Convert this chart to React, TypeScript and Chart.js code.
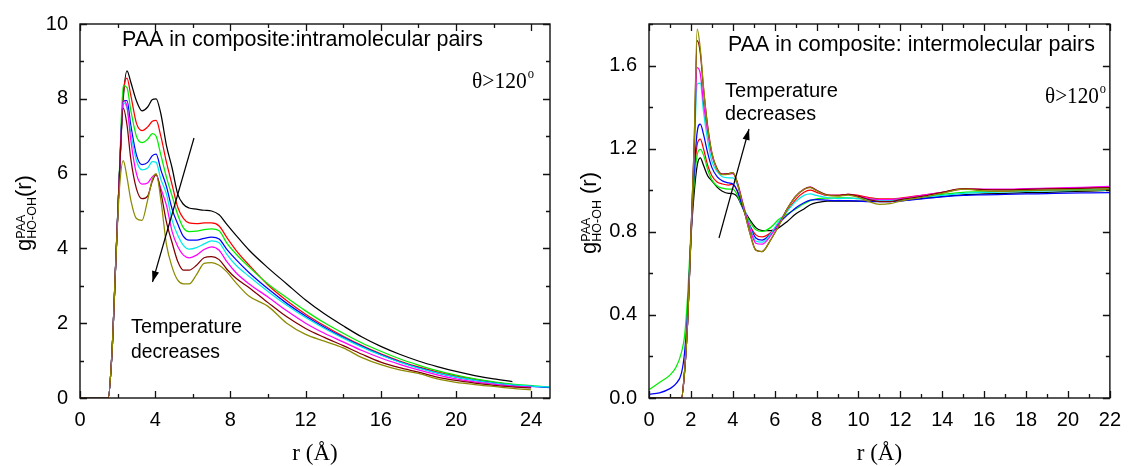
import React, { useEffect, useRef } from 'react';
import { Chart, registerables } from 'chart.js';

Chart.register(...registerables);

const SANS = 'Arial, "Liberation Sans", Helvetica, sans-serif';
const SERIF = '"Times New Roman", "Liberation Serif", Times, serif';

const SERIES_COLORS = ['#000000', '#ff0000', '#00ee00', '#0000ff', '#00eaea', '#ff00ff', '#800000', '#8c8a00'];
const SERIES_NAMES = ['T1', 'T2', 'T3', 'T4', 'T5', 'T6', 'T7', 'T8'];

// ---------------- Left panel: intramolecular pairs ----------------
const intraR = [0, 1.5, 1.7, 1.9, 2.1, 2.3, 2.5, 2.7, 3.0, 3.3, 3.6, 3.85, 4.05, 4.3, 4.6, 4.9, 5.2, 5.5, 5.8, 6.2, 6.6, 7.0, 7.4, 7.8, 8.3, 9, 10, 11, 12, 13, 14, 15, 16, 17, 18, 19, 20, 21, 22, 23, 24, 25];
const intraBlack = [0, 0, 1.2, 3.6, 6.0, 8.0, 8.75, 8.45, 7.95, 7.68, 7.78, 7.98, 8.0, 7.6, 6.75, 6.15, 5.45, 5.18, 5.08, 5.05, 5.02, 5.0, 4.9, 4.65, 4.35, 3.95, 3.48, 3.05, 2.62, 2.25, 1.93, 1.63, 1.38, 1.17, 0.99, 0.84, 0.71, 0.6, 0.51, 0.44, null, null];
const intraRed = [0, 0, 1.2, 3.6, 6.0, 8.1, 8.55, 8.1, 7.35, 7.15, 7.25, 7.4, 7.42, 7.0, 6.3, 5.7, 5.1, 4.8, 4.68, 4.66, 4.68, 4.68, 4.6, 4.3, 3.95, 3.55, 3.02, 2.6, 2.24, 1.93, 1.65, 1.4, 1.18, 0.99, 0.83, 0.7, 0.59, 0.5, 0.42, 0.36, 0.31, null];
const intraGreen = [0, 0, 1.2, 3.6, 6.1, 8.35, 8.3, 7.7, 7.0, 6.83, 6.92, 7.07, 7.0, 6.5, 5.9, 5.4, 4.9, 4.55, 4.45, 4.46, 4.5, 4.52, 4.47, 4.15, 3.85, 3.5, 3.05, 2.68, 2.33, 2.01, 1.73, 1.47, 1.25, 1.05, 0.88, 0.73, 0.61, 0.51, 0.43, 0.37, 0.33, 0.29];
const intraBlue = [0, 0, 1.2, 3.6, 6.0, 7.95, 7.95, 7.3, 6.5, 6.24, 6.3, 6.48, 6.52, 6.1, 5.65, 5.05, 4.65, 4.32, 4.22, 4.22, 4.27, 4.3, 4.25, 3.98, 3.7, 3.35, 2.92, 2.53, 2.19, 1.89, 1.62, 1.38, 1.16, 0.97, 0.81, 0.67, 0.56, 0.47, 0.4, 0.34, 0.31, 0.28];
const intraCyan = [0, 0, 1.2, 3.6, 6.0, 7.9, 7.75, 7.1, 6.35, 6.1, 6.15, 6.32, 6.3, 5.85, 5.45, 4.75, 4.35, 4.08, 3.98, 4.02, 4.12, 4.2, 4.15, 3.85, 3.55, 3.25, 2.85, 2.48, 2.15, 1.86, 1.6, 1.36, 1.15, 0.96, 0.8, 0.67, 0.56, 0.47, 0.4, 0.35, 0.32, 0.29];
const intraMagenta = [0, 0, 1.2, 3.6, 6.0, 7.95, 7.8, 6.9, 6.0, 5.72, 5.75, 5.92, 5.97, 5.6, 5.15, 4.45, 4.05, 3.82, 3.75, 3.82, 3.97, 4.04, 3.95, 3.65, 3.35, 3.05, 2.7, 2.33, 2.0, 1.73, 1.5, 1.27, 1.07, 0.9, 0.75, 0.62, 0.51, 0.43, 0.37, 0.32, 0.29, null];
const intraWine = [0, 0, 1.2, 3.6, 6.0, 7.75, 7.3, 6.4, 5.6, 5.33, 5.4, 5.8, 5.97, 5.5, 4.7, 4.15, 3.65, 3.42, 3.42, 3.55, 3.75, 3.78, 3.7, 3.45, 3.2, 2.95, 2.55, 2.17, 1.86, 1.62, 1.4, 1.17, 0.96, 0.81, 0.69, 0.56, 0.47, 0.4, 0.34, 0.3, 0.27, null];
const intraOlive = [0, 0, 1.2, 3.6, 5.6, 6.35, 5.9, 5.3, 4.8, 4.75, 5.3, 5.85, 6.0, 5.3, 4.1, 3.5, 3.15, 3.05, 3.05, 3.3, 3.6, 3.62, 3.55, 3.38, 3.08, 2.72, 2.45, 2.0, 1.7, 1.52, 1.34, 1.08, 0.89, 0.75, 0.66, 0.51, 0.42, 0.36, 0.31, 0.26, 0.22, null];
const intraSeries = [intraBlack, intraRed, intraGreen, intraBlue, intraCyan, intraMagenta, intraWine, intraOlive];

// ---------------- Right panel: intermolecular pairs ----------------
const interR = [0, 0.5, 1.0, 1.3, 1.55, 1.7, 1.85, 2.0, 2.15, 2.3, 2.45, 2.6, 2.8, 3.0, 3.25, 3.5, 3.8, 4.0, 4.2, 4.5, 4.8, 5.1, 5.4, 5.8, 6.2, 6.6, 7.0, 7.4, 7.7, 8.0, 8.5, 9.0, 9.5, 10, 10.5, 11, 11.5, 12, 13, 14, 15, 16, 17, 18, 19, 20, 21, 22];
const interBlack = [0, 0, 0, 0, 0, 0.13, 0.38, 0.76, 0.98, 1.12, 1.156, 1.12, 1.07, 1.045, 1.015, 0.995, 0.985, 0.984, 0.97, 0.91, 0.86, 0.82, 0.805, 0.805, 0.82, 0.85, 0.885, 0.91, 0.93, 0.94, 0.948, 0.948, 0.948, 0.948, 0.948, 0.948, 0.95, 0.952, 0.96, 0.97, 0.978, 0.982, 0.985, 0.988, 0.99, 0.993, 0.996, 1.0];
const interRed = [0, 0, 0, 0, 0, 0.13, 0.38, 0.77, 1.05, 1.22, 1.246, 1.2, 1.12, 1.07, 1.04, 1.03, 1.025, 1.028, 1.0, 0.915, 0.835, 0.785, 0.775, 0.795, 0.84, 0.9, 0.955, 0.99, 1.0, 0.99, 0.975, 0.975, 0.98, 0.975, 0.965, 0.958, 0.958, 0.962, 0.975, 0.99, 1.005, 1.003, 1.003, 1.006, 1.008, 1.01, 1.013, 1.015];
const interGreen = [0.04, 0.075, 0.11, 0.15, 0.22, 0.3, 0.5, 0.8, 1.03, 1.17, 1.196, 1.17, 1.1, 1.05, 1.02, 1.01, 1.005, 1.005, 0.98, 0.91, 0.85, 0.81, 0.802, 0.82, 0.86, 0.885, 0.91, 0.935, 0.95, 0.958, 0.962, 0.963, 0.963, 0.96, 0.958, 0.955, 0.955, 0.957, 0.968, 0.98, 0.99, 0.992, 0.995, 0.998, 1.0, 1.002, 1.004, 1.006];
const interBlue = [0.018, 0.025, 0.045, 0.07, 0.12, 0.22, 0.42, 0.78, 1.08, 1.28, 1.318, 1.27, 1.18, 1.11, 1.065, 1.045, 1.035, 1.03, 1.0, 0.91, 0.83, 0.77, 0.76, 0.79, 0.84, 0.88, 0.915, 0.94, 0.952, 0.955, 0.952, 0.95, 0.95, 0.948, 0.945, 0.945, 0.945, 0.948, 0.958, 0.968, 0.975, 0.978, 0.98, 0.982, 0.984, 0.986, 0.987, 0.988];
const interCyan = [0, 0, 0, 0, 0, 0.13, 0.38, 0.78, 1.15, 1.51, 1.515, 1.38, 1.24, 1.14, 1.09, 1.065, 1.06, 1.06, 1.03, 0.93, 0.83, 0.755, 0.75, 0.79, 0.85, 0.9, 0.945, 0.975, 0.982, 0.975, 0.965, 0.96, 0.962, 0.96, 0.955, 0.95, 0.95, 0.955, 0.965, 0.975, 0.985, 0.99, 0.992, 0.995, 0.997, 0.998, 1.0, 1.0];
const interMagenta = [0, 0, 0, 0, 0, 0.13, 0.38, 0.78, 1.18, 1.59, 1.56, 1.42, 1.28, 1.17, 1.1, 1.078, 1.078, 1.08, 1.045, 0.93, 0.82, 0.745, 0.74, 0.78, 0.84, 0.91, 0.97, 1.005, 1.015, 1.0, 0.975, 0.975, 0.98, 0.97, 0.96, 0.955, 0.955, 0.96, 0.975, 0.99, 1.005, 1.005, 1.005, 1.008, 1.01, 1.012, 1.015, 1.018];
const interWine = [0, 0, 0, 0, 0, 0.13, 0.38, 0.78, 1.2, 1.72, 1.66, 1.49, 1.31, 1.18, 1.105, 1.078, 1.08, 1.085, 1.04, 0.92, 0.8, 0.712, 0.705, 0.76, 0.83, 0.91, 0.97, 1.005, 1.015, 1.0, 0.978, 0.975, 0.98, 0.97, 0.955, 0.945, 0.945, 0.955, 0.97, 0.99, 1.008, 1.003, 1.002, 1.004, 1.006, 1.008, 1.01, 1.012];
const interOlive = [0, 0, 0, 0, 0, 0.13, 0.38, 0.78, 1.2, 1.775, 1.68, 1.5, 1.3, 1.18, 1.1, 1.075, 1.078, 1.085, 1.04, 0.92, 0.8, 0.71, 0.705, 0.76, 0.83, 0.91, 0.97, 1.005, 1.012, 0.998, 0.975, 0.972, 0.977, 0.965, 0.945, 0.932, 0.935, 0.948, 0.965, 0.985, 1.005, 0.997, 0.995, 0.998, 1.0, 1.002, 1.0, 1.005];
const interSeries = [interBlack, interRed, interGreen, interBlue, interCyan, interMagenta, interWine, interOlive];

// Axis ranges / tick steps
const intraXAxis = { min: 0, max: 25, major: 4, minor: 2 };
const intraYAxis = { min: 0, max: 10, major: 2, minor: 1 };
const interXAxis = { min: 0, max: 22, major: 2, minor: 1 };
const interYAxis = { min: 0, max: 1.8, major: 0.4, minor: 0.2 };

const intraTitle = 'PAA in composite:intramolecular pairs';
const interTitle = 'PAA in composite: intermolecular pairs';
const tempLines = ['Temperature', 'decreases'];

type Label = { text: string; x: number; y: number; w: number; font: string };
type Deco = {
  pageLeft: number;
  xAx: { major: number; minor: number };
  yAx: { major: number; minor: number };
  labels: Label[];
  theta: { x: number; y: number; w: number };
  arrow: [number, number, number, number];
  yTitleBase: number;
  spacedTitle: boolean;
};

function fitText(ctx: CanvasRenderingContext2D, l: Label, off: number) {
  ctx.save();
  ctx.font = l.font;
  ctx.textBaseline = 'alphabetic';
  ctx.textAlign = 'left';
  const m = ctx.measureText(l.text).width;
  ctx.translate(l.x - off, l.y);
  ctx.scale(l.w / m, 1);
  ctx.fillText(l.text, 0, 0);
  ctx.restore();
}

function makeDeco(d: Deco) {
  return {
    id: 'deco' + d.pageLeft,
    afterDraw(chart: any) {
      const { ctx, chartArea: a, scales } = chart;
      const xs = scales.x, ys = scales.y;
      const off = d.pageLeft;
      ctx.save();
      ctx.fillStyle = '#000';
      ctx.strokeStyle = '#111';
      ctx.lineWidth = 1.4;
      ctx.strokeRect(a.left, a.top, a.right - a.left, a.bottom - a.top);
      ctx.lineWidth = 1.3;
      const isMajor = (v: number, m: number) => Math.abs(v / m - Math.round(v / m)) < 1e-6;
      ctx.beginPath();
      const nx = Math.round((xs.max - xs.min) / d.xAx.minor);
      for (let k = 0; k <= nx; k++) {
        const v = xs.min + k * d.xAx.minor;
        const px = Math.round(xs.getPixelForValue(v)) + 0.5;
        const len = isMajor(v, d.xAx.major) ? 7 : 4;
        ctx.moveTo(px, a.bottom); ctx.lineTo(px, a.bottom - len);
        ctx.moveTo(px, a.top); ctx.lineTo(px, a.top + len);
      }
      const ny = Math.round((ys.max - ys.min) / d.yAx.minor);
      for (let k = 0; k <= ny; k++) {
        const v = ys.min + k * d.yAx.minor;
        const py = Math.round(ys.getPixelForValue(v)) + 0.5;
        const len = isMajor(v, d.yAx.major) ? 7 : 4;
        ctx.moveTo(a.left, py); ctx.lineTo(a.left + len, py);
        ctx.moveTo(a.right, py); ctx.lineTo(a.right - len, py);
      }
      ctx.stroke();

      // annotation texts
      d.labels.forEach((l) => fitText(ctx, l, off));

      // theta > 120 degrees
      {
        ctx.save();
        const big = `24px ${SERIF}`, small = `14px ${SERIF}`;
        ctx.font = big;
        const w1 = ctx.measureText('\u03B8>120').width;
        ctx.font = small;
        const w2 = ctx.measureText('o').width;
        ctx.translate(d.theta.x - off, d.theta.y);
        ctx.scale(d.theta.w / (w1 + w2 + 1), 1);
        ctx.font = big;
        ctx.fillText('\u03B8>120', 0, 0);
        ctx.font = small;
        ctx.fillText('o', w1 + 1, -10);
        ctx.restore();
      }

      // arrow
      {
        const [x1, y1, x2, y2] = d.arrow;
        const ax1 = x1 - off, ax2 = x2 - off;
        ctx.strokeStyle = '#000';
        ctx.lineWidth = 1.2;
        ctx.beginPath();
        ctx.moveTo(ax1, y1);
        ctx.lineTo(ax2, y2);
        ctx.stroke();
        const ang = Math.atan2(y2 - y1, ax2 - ax1);
        const L = 11, W = 3.6;
        ctx.beginPath();
        ctx.moveTo(ax2, y2);
        ctx.lineTo(ax2 - L * Math.cos(ang) + W * Math.sin(ang), y2 - L * Math.sin(ang) - W * Math.cos(ang));
        ctx.lineTo(ax2 - L * Math.cos(ang) - W * Math.sin(ang), y2 - L * Math.sin(ang) + W * Math.cos(ang));
        ctx.closePath();
        ctx.fill();
      }

      // y axis title g^PAA_HO-OH(r)
      {
        ctx.save();
        ctx.translate(d.yTitleBase, (a.top + a.bottom) / 2 + 2);
        ctx.rotate(-Math.PI / 2);
        ctx.textBaseline = 'alphabetic';
        ctx.textAlign = 'left';
        const big = `22px ${SANS}`, small = `12.5px ${SANS}`;
        const tail = d.spacedTitle ? ' (r)' : '(r)';
        ctx.font = big;
        const wg = ctx.measureText('g').width;
        const wr = ctx.measureText(tail).width;
        ctx.font = small;
        const wsup = ctx.measureText('PAA').width;
        const wsub = ctx.measureText('HO-OH').width;
        const wm = Math.max(wsup, wsub);
        let x = -(wg + wm + wr) / 2;
        ctx.font = big;
        ctx.fillText('g', x, 0);
        x += wg;
        ctx.font = small;
        ctx.fillText('PAA', x, -6);
        ctx.fillText('HO-OH', x, 5);
        x += wm;
        ctx.font = big;
        ctx.fillText(tail, x, 0);
        ctx.restore();
      }

      // x axis title
      {
        ctx.save();
        ctx.font = `23px ${SERIF}`;
        ctx.textAlign = 'center';
        ctx.textBaseline = 'alphabetic';
        ctx.fillText('r (\u00C5)', (a.left + a.right) / 2, 460);
        ctx.restore();
      }
      ctx.restore();
    },
  };
}

function buildConfig(
  r: number[],
  series: (number | null)[][],
  xAx: { min: number; max: number; major: number; minor: number },
  yAx: { min: number; max: number; major: number; minor: number },
  yFmt: (v: number) => string,
  yWidth: number,
  padTop: number,
  padRight: number,
  deco: any
) {
  const datasets = series.map((ys, i) => ({
    label: SERIES_NAMES[i],
    data: r.map((x, j) => ({ x, y: ys[j] })),
    borderColor: SERIES_COLORS[i],
    backgroundColor: SERIES_COLORS[i],
    borderWidth: 1.25,
    pointRadius: 0,
    pointHoverRadius: 0,
    fill: false,
    cubicInterpolationMode: 'monotone' as const,
    spanGaps: false,
    order: -i,
  }));
  const tickFont = { family: SANS, size: 20 };
  return {
    type: 'line' as const,
    data: { datasets },
    options: {
      animation: false as const,
      responsive: false,
      devicePixelRatio: 1,
      events: [],
      layout: { padding: { top: padTop, right: padRight, left: 0, bottom: 0 } },
      plugins: { legend: { display: false }, tooltip: { enabled: false }, title: { display: false } },
      scales: {
        x: {
          type: 'linear' as const,
          min: xAx.min,
          max: xAx.max,
          grid: { display: false, drawTicks: false },
          border: { display: false },
          ticks: {
            stepSize: xAx.major,
            includeBounds: false,
            autoSkip: false,
            maxRotation: 0,
            padding: 10,
            color: '#000',
            font: tickFont,
            callback: (v: any) => String(Math.round(Number(v))),
          },
          afterFit: (s: any) => { s.height = 68; },
        },
        y: {
          type: 'linear' as const,
          min: yAx.min,
          max: yAx.max,
          grid: { display: false, drawTicks: false },
          border: { display: false },
          ticks: {
            stepSize: yAx.major,
            includeBounds: false,
            autoSkip: false,
            padding: 12,
            color: '#000',
            font: tickFont,
            callback: (v: any) => yFmt(Number(v)),
          },
          afterFit: (s: any) => { s.width = yWidth; },
        },
      },
    },
    plugins: [deco],
  };
}

const LEFT_W = 565;
const RIGHT_W = 566;
const H = 466;

export default function App() {
  const leftRef = useRef<HTMLCanvasElement | null>(null);
  const rightRef = useRef<HTMLCanvasElement | null>(null);

  useEffect(() => {
    const leftDeco = makeDeco({
      pageLeft: 0,
      xAx: intraXAxis,
      yAx: intraYAxis,
      labels: [
        { text: intraTitle, x: 122, y: 46, w: 361, font: `21.5px ${SANS}` },
        { text: tempLines[0], x: 131, y: 333, w: 111, font: `20px ${SANS}` },
        { text: tempLines[1], x: 131, y: 358, w: 89, font: `20px ${SANS}` },
      ],
      theta: { x: 472, y: 88, w: 62 },
      arrow: [194, 138, 152.5, 282],
      yTitleBase: 31,
      spacedTitle: false,
    });
    const rightDeco = makeDeco({
      pageLeft: LEFT_W,
      xAx: interXAxis,
      yAx: interYAxis,
      labels: [
        { text: interTitle, x: 728, y: 51, w: 367, font: `21.5px ${SANS}` },
        { text: tempLines[0], x: 725, y: 97, w: 113, font: `20px ${SANS}` },
        { text: tempLines[1], x: 725, y: 120, w: 91, font: `20px ${SANS}` },
      ],
      theta: { x: 1045, y: 103, w: 61 },
      arrow: [719, 238, 749, 129],
      yTitleBase: 31,
      spacedTitle: true,
    });
    const c1 = new Chart(
      leftRef.current as HTMLCanvasElement,
      buildConfig(intraR, intraSeries, intraXAxis, intraYAxis, (v) => String(Math.round(v)), 80, 18, LEFT_W - 550, leftDeco) as any
    );
    const c2 = new Chart(
      rightRef.current as HTMLCanvasElement,
      buildConfig(interR, interSeries, interXAxis, interYAxis, (v) => v.toFixed(1), 84, 22, 14, rightDeco) as any
    );
    return () => {
      c1.destroy();
      c2.destroy();
    };
  }, []);

  return (
    <div style={{ position: 'fixed', left: 0, top: 0, width: 1131, height: H, background: '#fff', overflow: 'hidden' }}>
      <canvas ref={leftRef} width={LEFT_W} height={H} style={{ position: 'absolute', left: 0, top: 0, width: LEFT_W, height: H }} />
      <canvas ref={rightRef} width={RIGHT_W} height={H} style={{ position: 'absolute', left: LEFT_W, top: 0, width: RIGHT_W, height: H }} />
    </div>
  );
}
